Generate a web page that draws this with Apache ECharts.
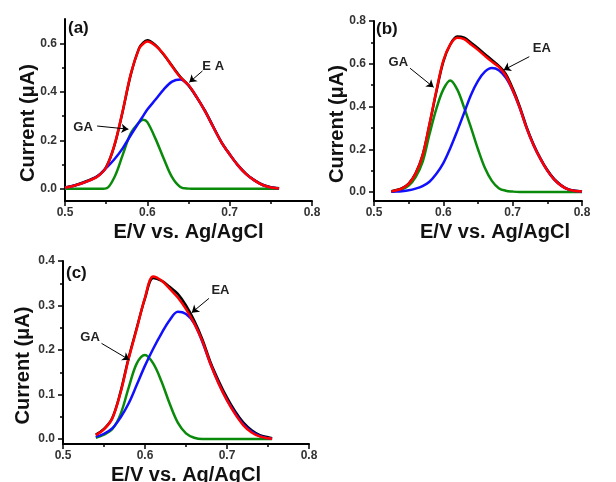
<!DOCTYPE html>
<html>
<head>
<meta charset="utf-8">
<title>GA / EA deconvolution</title>
<script src="https://cdn.jsdelivr.net/npm/echarts@6/dist/echarts.min.js"></script>
<style>
  html, body { margin: 0; padding: 0; background: #fff; }
  #main { width: 616px; height: 482px; }
</style>
</head>
<body>
<div id="main"></div>
<script>
// ---- panel (a) ----
var aE   = [0.50,0.51,0.52,0.53,0.54,0.55,0.56,0.57,0.58,0.59,0.595,0.60,0.61,0.62,0.63,0.64,0.65,0.66,0.67,0.68,0.69,0.70,0.71,0.72,0.73,0.74,0.75,0.76];
var aGA  = [0,0,0,0,0,0.002,0.048,0.139,0.23,0.274,0.285,0.275,0.206,0.124,0.048,0.008,0.001,0,0,0,0,0,0,0,0,0,0,0];
var aEA  = [0.005,0.012,0.022,0.035,0.053,0.086,0.122,0.167,0.222,0.275,0.301,0.327,0.368,0.41,0.442,0.451,0.427,0.378,0.32,0.255,0.192,0.142,0.097,0.061,0.035,0.016,0.006,0.002];
var aFit = [0.005,0.012,0.022,0.035,0.052,0.088,0.18,0.32,0.475,0.578,0.598,0.607,0.59,0.555,0.505,0.46,0.428,0.378,0.32,0.255,0.192,0.142,0.097,0.061,0.035,0.016,0.006,0.002];
var aExp = [0.006,0.013,0.024,0.037,0.054,0.09,0.178,0.318,0.472,0.58,0.603,0.612,0.592,0.553,0.507,0.462,0.426,0.377,0.322,0.257,0.193,0.143,0.098,0.062,0.036,0.017,0.007,0.003];

// ---- panel (b) ----
var bE   = [0.525,0.53,0.54,0.55,0.56,0.57,0.58,0.59,0.60,0.61,0.62,0.63,0.64,0.65,0.66,0.67,0.68,0.69,0.70,0.71,0.72,0.73,0.74,0.75,0.76,0.77,0.78,0.79,0.80];
var bGA  = [0.002,0.004,0.012,0.03,0.07,0.14,0.27,0.39,0.48,0.522,0.48,0.395,0.30,0.20,0.112,0.052,0.018,0.006,0.002,0,0,0,0,0,0,0,0,0,0];
var bEA  = [0.001,0.002,0.004,0.008,0.016,0.028,0.048,0.085,0.135,0.205,0.285,0.37,0.455,0.52,0.563,0.58,0.57,0.535,0.475,0.395,0.30,0.22,0.155,0.10,0.058,0.03,0.012,0.005,0.002];
var bFit = [0.003,0.006,0.016,0.038,0.086,0.17,0.318,0.475,0.615,0.69,0.722,0.715,0.69,0.665,0.637,0.61,0.585,0.545,0.477,0.396,0.30,0.22,0.155,0.10,0.058,0.03,0.012,0.005,0.002];
var bExp = [0.004,0.007,0.017,0.04,0.088,0.172,0.315,0.47,0.61,0.69,0.728,0.722,0.698,0.673,0.645,0.618,0.59,0.553,0.485,0.402,0.305,0.224,0.158,0.103,0.06,0.032,0.013,0.006,0.003];

// ---- panel (c) ----
var cE   = [0.54,0.55,0.56,0.57,0.58,0.59,0.60,0.61,0.62,0.63,0.64,0.65,0.66,0.67,0.68,0.69,0.70,0.71,0.72,0.73,0.74,0.75,0.755];
var cGA  = [0.003,0.01,0.022,0.055,0.115,0.17,0.189,0.17,0.13,0.08,0.037,0.013,0.003,0,0,0,0,0,0,0,0,0,0];
var cEA  = [0.005,0.012,0.024,0.048,0.08,0.122,0.165,0.203,0.237,0.267,0.286,0.281,0.26,0.218,0.168,0.125,0.088,0.058,0.033,0.017,0.007,0.002,0.001];
var cFit = [0.009,0.022,0.046,0.103,0.18,0.248,0.318,0.365,0.356,0.338,0.318,0.292,0.26,0.22,0.168,0.124,0.087,0.056,0.031,0.015,0.006,0.002,0.001];
var cExp = [0.01,0.023,0.047,0.105,0.182,0.25,0.316,0.362,0.356,0.342,0.326,0.30,0.266,0.224,0.172,0.13,0.093,0.062,0.037,0.02,0.009,0.004,0.002];

// axis ticks
var xTicks  = [0.5, 0.8, 0.1];
var aYMajor = [0, 0.2, 0.4, 0.6],      aYMinor = [0.1, 0.3, 0.5];
var bYMajor = [0, 0.2, 0.4, 0.6, 0.8], bYMinor = [0.1, 0.3, 0.5, 0.7];
var cYMajor = [0, 0.1, 0.2, 0.3, 0.4], cYMinor = [0.05, 0.15, 0.25, 0.35];

// annotations: text position, arrow start, arrow end (data units)
var aNotes = [
  { text: 'E A', at: [0.680, 0.506], from: [0.667, 0.486], to: [0.651, 0.439] },
  { text: 'GA',  at: [0.522, 0.255], from: [0.539, 0.259], to: [0.577, 0.246] }
];
var bNotes = [
  { text: 'GA', at: [0.535, 0.608], from: [0.552, 0.579], to: [0.586, 0.490] },
  { text: 'EA', at: [0.742, 0.674], from: [0.724, 0.633], to: [0.687, 0.571] }
];
var cNotes = [
  { text: 'GA', at: [0.533, 0.229], from: [0.547, 0.215], to: [0.581, 0.178] },
  { text: 'EA', at: [0.692, 0.335], from: [0.678, 0.316], to: [0.657, 0.284] }
];

var panels = [
  { tag: '(a)', x: aE, exp: aExp, ga: aGA, ea: aEA, fit: aFit, yMin: -0.05, yMax: 0.7, major: aYMajor, minor: aYMinor, notes: aNotes,
    grid: { left: 65, top: 19, width: 247, height: 182 }, tagPos: [79, 30], xPad: [0, 0, 0, 0], yGap: 27 },
  { tag: '(b)', x: bE, exp: bExp, ga: bGA, ea: bEA, fit: bFit, yMin: -0.042, yMax: 0.8, major: bYMajor, minor: bYMinor, notes: bNotes,
    grid: { left: 374, top: 21, width: 208, height: 180 }, tagPos: [387, 31], xPad: [0, 0, 0, 34], yGap: 27 },
  { tag: '(c)', x: cE, exp: cExp, ga: cGA, ea: cEA, fit: cFit, yMin: -0.011, yMax: 0.4, major: cYMajor, minor: cYMinor, notes: cNotes,
    grid: { left: 63, top: 261, width: 246, height: 183 }, tagPos: [77, 275], xPad: [0, 0, 0, 0], yGap: 30 }
];

var FONT = 'Liberation Sans, Arial, sans-serif';
var tickStyle = { color: '#000', width: 1.5 };

function pairs(xs, ys) {
  return xs.map(function (x, i) { return [x, ys[i]]; });
}

var grids = [], xAxes = [], yAxes = [], series = [], graphics = [];

panels.forEach(function (p, i) {
  grids.push({ left: p.grid.left, top: p.grid.top, width: p.grid.width, height: p.grid.height, containLabel: false, outerBoundsMode: 'none' });

  xAxes.push({
    gridIndex: i, type: 'value', min: xTicks[0], max: xTicks[1], interval: xTicks[2],
    axisLine: { onZero: false, lineStyle: { color: '#000', width: 2 } },
    axisTick: { length: 5, lineStyle: tickStyle },
    minorTick: { show: true, splitNumber: 2, length: 3, lineStyle: tickStyle },
    axisLabel: { formatter: function (v) { return v.toFixed(1); }, margin: 6, fontSize: 12, fontWeight: 'bold', color: '#333', fontFamily: FONT },
    splitLine: { show: false }, minorSplitLine: { show: false },
    name: 'E/V vs. Ag/AgCl', nameLocation: 'middle', nameGap: 21, nameMoveOverlap: false,
    nameTextStyle: { fontSize: 20, fontWeight: 'bold', color: '#111', fontFamily: FONT, padding: p.xPad }
  });

  yAxes.push({
    gridIndex: i, type: 'value', position: 'left', min: p.yMin, max: p.yMax,
    axisLine: { show: true, onZero: false, lineStyle: { color: '#000', width: 2 } },
    axisTick: { show: true, length: 5, lineStyle: tickStyle, customValues: p.major },
    axisLabel: { customValues: p.major, formatter: function (v) { return v.toFixed(1); }, margin: 8, fontSize: 12, fontWeight: 'bold', color: '#333', fontFamily: FONT },
    splitLine: { show: false },
    name: 'Current (\u03bcA)', nameLocation: 'middle', nameGap: p.yGap, nameMoveOverlap: false,
    nameTextStyle: { fontSize: 20, fontWeight: 'bold', color: '#111', fontFamily: FONT, padding: [0, 26, 0, 0] }
  });
  // second axis on the same scale, only for the short minor ticks
  yAxes.push({
    gridIndex: i, type: 'value', position: 'left', offset: 0, min: p.yMin, max: p.yMax,
    axisLine: { show: false, onZero: false },
    axisTick: { show: true, length: 3, lineStyle: tickStyle, customValues: p.minor },
    axisLabel: { show: false },
    splitLine: { show: false }
  });

  var base = { type: 'line', xAxisIndex: i, yAxisIndex: i * 2, showSymbol: false, smooth: 0.35, silent: true };
  series.push(Object.assign({}, base, { name: 'exp', data: pairs(p.x, p.exp), lineStyle: { color: '#000', width: 2.5 } }));
  series.push(Object.assign({}, base, { name: 'GA', data: pairs(p.x, p.ga), lineStyle: { color: '#0a8a0a', width: 2.5 } }));
  series.push(Object.assign({}, base, { name: 'EA', data: pairs(p.x, p.ea), lineStyle: { color: '#1010ff', width: 2.5 } }));
  series.push(Object.assign({}, base, {
    name: 'fit', data: pairs(p.x, p.fit), lineStyle: { color: '#ff0000', width: 2.5 },
    markLine: {
      silent: true, symbol: ['none', 'arrow'], symbolSize: 7,
      lineStyle: { color: '#000', width: 1, type: 'solid' },
      label: { show: false },
      data: p.notes.map(function (n) { return [{ coord: n.from }, { coord: n.to }]; })
    },
    markPoint: {
      silent: true, symbol: 'circle', symbolSize: 1,
      itemStyle: { color: 'rgba(0,0,0,0)' },
      label: { show: true, position: 'inside', formatter: function (d) { return d.name; }, fontSize: 13, fontWeight: 'bold', color: '#222', fontFamily: FONT },
      data: p.notes.map(function (n) { return { name: n.text, coord: n.at }; })
    }
  }));

  graphics.push({
    type: 'text', left: p.tagPos[0] - 11, top: p.tagPos[1] - 10,
    style: { text: p.tag, fontSize: 17, fontWeight: 'bold', fill: '#111', fontFamily: FONT }
  });
});

var myChart = echarts.init(document.getElementById('main'));
myChart.setOption({
  animation: false,
  backgroundColor: '#fff',
  grid: grids,
  xAxis: xAxes,
  yAxis: yAxes,
  series: series,
  graphic: graphics
});
</script>
</body>
</html>
